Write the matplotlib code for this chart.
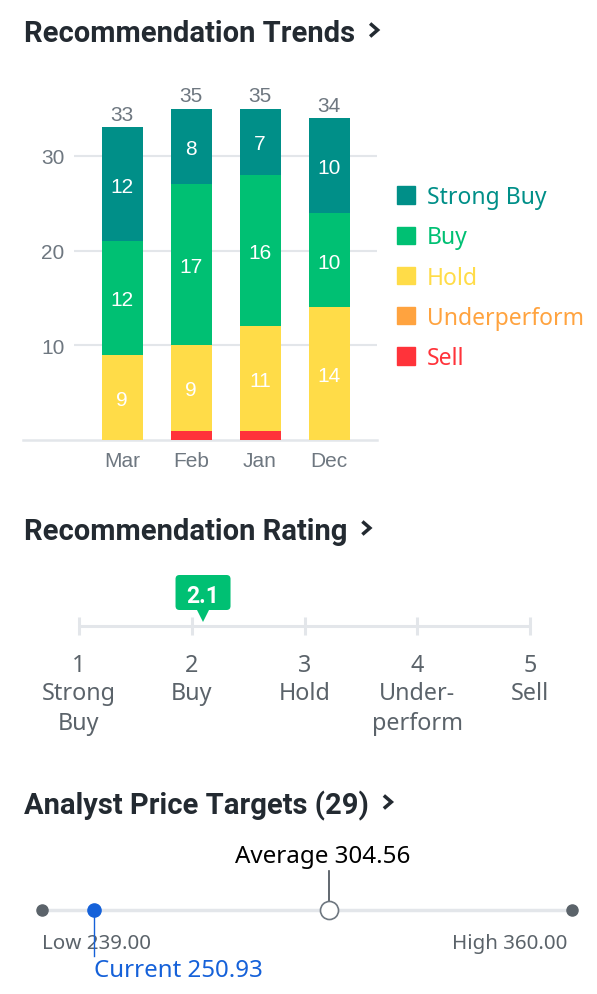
import matplotlib
matplotlib.use("Agg")
import matplotlib.pyplot as plt
from matplotlib.patches import Patch, FancyBboxPatch
from matplotlib.lines import Line2D

# ---------------- data ----------------
months = ["Mar", "Feb", "Jan", "Dec"]
strong_buy = [12, 8, 7, 10]
buy = [12, 17, 16, 10]
hold = [9, 9, 11, 14]
underperform = [0, 0, 0, 0]
sell = [0, 1, 1, 0]
categories = ["Strong Buy", "Buy", "Hold", "Underperform", "Sell"]
cat_colors = ["#008f88", "#00c073", "#ffdc48", "#ffa33f", "#ff333a"]
y_ticks = [10, 20, 30]

rating_positions = [1, 2, 3, 4, 5]
rating_labels = ["Strong\nBuy", "Buy", "Hold", "Under-\nperform", "Sell"]
rating_value = 2.1

n_analysts = 29
price_low = 239.00
price_high = 360.00
price_avg = 304.56
price_current = 250.93

# ---------------- style ----------------
W, H = 597, 995
DARK = "#232a31"
GRAY = "#6e7780"
LGRAY = "#5b636a"
GRID = "#e3e6ea"
BLUE = "#1561d9"
ARIAL = "Liberation Sans"
NOTO = "Noto Sans"
BOLD = "Roboto"


def fx(px):
    return px / W


def fy(py):
    return 1 - py / H


fig = plt.figure(figsize=(W / 100, H / 100), dpi=100)
fig.patch.set_facecolor("white")


def title(py, text):
    t = fig.text(fx(24), fy(py), text, fontsize=21, fontweight="bold",
                 family=BOLD, color=DARK, va="center_baseline", ha="left")
    fig.canvas.draw()
    bb = t.get_window_extent()
    x0 = bb.x1 + 15
    y0 = H - py
    fig.add_artist(Line2D([x0, x0 + 7.5, x0], [y0 + 6.5, y0, y0 - 6.5],
                          transform=None, color=DARK, lw=2.5,
                          solid_capstyle="butt", solid_joinstyle="miter"))


# ---------------- Recommendation Trends ----------------
title(31, "Recommendation Trends")

L, R, T, B = 74, 377, 80, 441
ax = fig.add_axes([fx(L), fy(B), fx(R) - fx(L), fy(T) - fy(B)])
xpos = list(range(len(months)))
ax.set_xlim(-48 / 69, 255 / 69)
ax.set_ylim(0, (B - T) / 9.47)

stack = [("Sell", sell), ("Underperform", underperform), ("Hold", hold),
         ("Buy", buy), ("Strong Buy", strong_buy)]
bottom = [0] * len(months)
handles = {}
for name, vals in stack:
    col = cat_colors[categories.index(name)]
    ax.bar(xpos, vals, width=41 / 69, bottom=bottom, color=col,
           linewidth=0, zorder=3)
    handles[name] = Patch(color=col)
    for i, v in enumerate(vals):
        if v > 1:
            ax.text(xpos[i], bottom[i] + v / 2, str(v), ha="center",
                    va="center_baseline", color="white", fontsize=15,
                    family=ARIAL, zorder=4)
    bottom = [b + v for b, v in zip(bottom, vals)]

for i, tot in enumerate(bottom):
    ax.annotate(str(tot), (xpos[i], tot), xytext=(0, 15),
                textcoords="offset pixels", ha="center", va="center_baseline",
                color=GRAY, fontsize=15, family=ARIAL)

ax.set_yticks(y_ticks)
ax.set_yticklabels([str(v) for v in y_ticks], family=ARIAL, fontsize=15,
                   color=GRAY)
ax.set_xticks(xpos)
ax.set_xticklabels(months, family=ARIAL, fontsize=15, color=GRAY)
ax.tick_params(axis="both", length=0)
ax.tick_params(axis="y", pad=7)
ax.tick_params(axis="x", pad=8)
ax.grid(axis="y", color=GRID, lw=1.5, zorder=0)
for s in ax.spines.values():
    s.set_visible(False)
ax.axhline(0, xmin=-(L - 23) / (R - L), xmax=1, color=GRID, lw=1.8,
           clip_on=False, zorder=2)

ax.legend([handles[c] for c in categories], categories,
          loc="upper left", bbox_to_anchor=(fx(397), fy(186)),
          bbox_transform=fig.transFigure, frameon=False,
          prop={"family": NOTO, "size": 16.5}, labelcolor=cat_colors,
          handlelength=0.78, handleheight=0.78, handletextpad=0.52,
          labelspacing=0.71, borderpad=0, borderaxespad=0)

# ---------------- Recommendation Rating ----------------
title(529, "Recommendation Rating")

RL, RR = 79, 530
ax2 = fig.add_axes([fx(RL), fy(745), fx(RR) - fx(RL), fy(560) - fy(745)])
ax2.set_xlim(rating_positions[0], rating_positions[-1])
ax2.set_ylim(745, 560)
ax2.axis("off")
ax2.plot([rating_positions[0], rating_positions[-1]], [627, 627],
         color=GRID, lw=2.2, clip_on=False, solid_capstyle="butt")
ax2.vlines(rating_positions, 618, 636, color=GRID, lw=2.2, clip_on=False)
for p, lab in zip(rating_positions, rating_labels):
    ax2.text(p, 663, str(p), ha="center", va="center_baseline", fontsize=16.8,
             family=NOTO, color=LGRAY, clip_on=False)
    ax2.text(p, 682, lab, ha="center", va="top", fontsize=16.8,
             family=NOTO, color=LGRAY, linespacing=1.36, clip_on=False)

GREEN = "#00c073"
px_per_unit = (RR - RL) / (rating_positions[-1] - rating_positions[0])
bw = 55 / px_per_unit
r = 4 / px_per_unit
badge = FancyBboxPatch((rating_value - bw / 2, 576), bw, 35,
                       boxstyle=f"round,pad=0,rounding_size={r}",
                       mutation_aspect=px_per_unit, fc=GREEN, ec="none",
                       clip_on=False, zorder=3)
ax2.add_patch(badge)
ax2.plot(rating_value, 615, marker="v", ms=12, color=GREEN,
         clip_on=False, mew=0, zorder=3)
ax2.text(rating_value, 594, f"{rating_value:.1f}", ha="center",
         va="center_baseline", fontsize=16.5, fontweight="bold", family=BOLD,
         color="white", clip_on=False, zorder=4)

# ---------------- Analyst Price Targets ----------------
title(803, f"Analyst Price Targets ({n_analysts})")

ax3 = fig.add_axes([fx(42), fy(990), fx(572) - fx(42), fy(830) - fy(990)])
ax3.set_xlim(price_low, price_high)
ax3.set_ylim(990, 830)
ax3.axis("off")
ax3.plot([price_low, price_high], [911, 911], color=GRID, lw=2.5,
         clip_on=False, zorder=1)
ax3.plot([price_low, price_high], [911, 911], "o", ms=8, color=LGRAY,
         clip_on=False, zorder=3)
ax3.plot([price_avg, price_avg], [872, 903], color="#464e56", lw=1.2,
         clip_on=False, zorder=2)
ax3.plot(price_avg, 911, "o", ms=13, mfc="white", mec="#6e7780", mew=1.2,
         clip_on=False, zorder=4)
ax3.annotate(f"Average {price_avg:.2f}", (price_avg, 854), xytext=(-6, 0),
             textcoords="offset pixels", ha="center", va="center_baseline",
             fontsize=17.4, family=NOTO, color="black", annotation_clip=False)
ax3.plot([price_current, price_current], [911, 957], color=BLUE, lw=1.0,
         clip_on=False, zorder=2)
ax3.plot(price_current, 911, "o", ms=9.5, color=BLUE, clip_on=False,
         zorder=5)
ax3.text(price_current, 968, f"Current {price_current:.2f}", ha="left",
         va="center_baseline", fontsize=17.3, family=NOTO, color=BLUE,
         clip_on=False)
ax3.text(price_low, 942, f"Low {price_low:.2f}", ha="left",
         va="center_baseline", fontsize=14.8, family=NOTO, color=LGRAY,
         clip_on=False, zorder=1)
ax3.annotate(f"High {price_high:.2f}", (price_high, 942), xytext=(-5, 0),
             textcoords="offset pixels", ha="right", va="center_baseline",
             fontsize=14.8, family=NOTO, color=LGRAY, annotation_clip=False)

fig.savefig("out.png", dpi=100, facecolor="white")
